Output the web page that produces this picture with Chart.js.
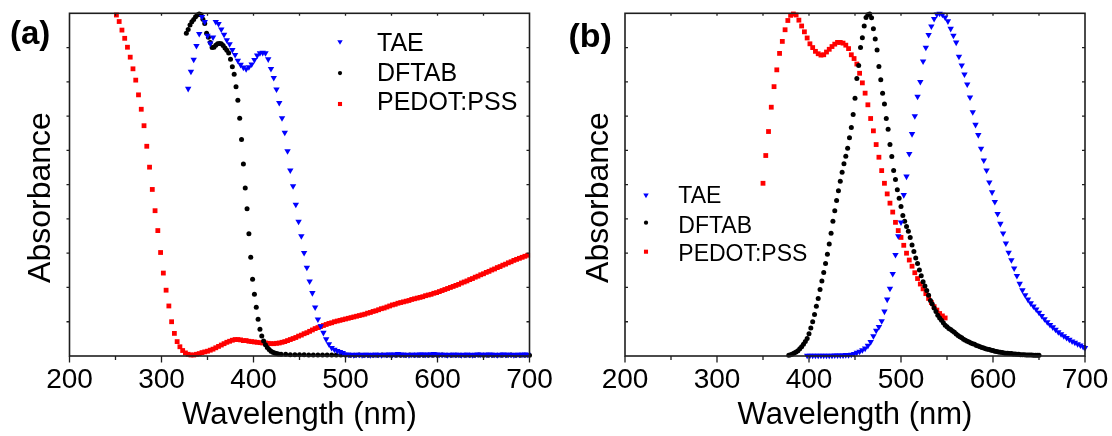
<!DOCTYPE html>
<html>
<head>
<meta charset="utf-8">
<script src="https://cdn.jsdelivr.net/npm/chart.js@4.4.1/dist/chart.umd.min.js"></script>
<style>
html,body{margin:0;padding:0;background:#fff;}
#wrap{position:relative;width:1112px;height:436px;overflow:hidden;background:#fff;}
.panel{position:absolute;top:0;width:556px;height:436px;}
canvas{display:block;}
</style>
</head>
<body>
<div id="wrap">
  <div class="panel" style="left:0"><canvas id="ca" width="556" height="436"></canvas></div>
  <div class="panel" style="left:556px"><canvas id="cb" width="556" height="436"></canvas></div>
</div>
<script>
// ---------- Panel (a): absorption ----------
const taeA_x = [329,332,335,338,341,344,347,350,353,356,359,362,365,368,371,374,377,380,383,386,389,392,395,398,401,404,407,410,413,416,419,422,425,428,431,434,437,440,443,446,449,452,455,458,461,464,467,470,473,476,479,482,485,488,491,494,497,500,
503,506,509,512,515,518,521,524,527,530,533,536,539,542,545,548,551,554,557,560,563,566,569,572,575,578,581,584,587,590,593,596,599,602,605,608,611,614,617,620,623,626,629,632,635,638,641,644,647,650,653,656,659,662,665,668,671,674,677,680,683,686,689,692,695,698];
const taeA_y = [0.78,0.83,0.865,0.905,0.94,0.99,0.975,0.935,0.912,0.93,0.975,0.969,0.953,0.938,0.922,0.91,0.893,0.879,0.862,0.85,0.842,0.837,0.843,0.851,0.864,0.877,0.884,0.885,0.884,0.866,0.838,0.812,0.778,0.739,0.694,0.652,0.598,0.542,0.496,0.442,0.392,0.35,0.301,0.258,0.218,0.184,0.142,0.107,0.087,0.068,0.049,0.035,0.024,0.019,0.015,0.012,0.009,0.005,
0.004,0.004,0.003,0.004,0.004,0.003,0.004,0.004,0.003,0.004,0.004,0.004,0.003,0.004,0.004,0.005,0.004,0.005,0.006,0.005,0.004,0.004,0.003,0.004,0.004,0.004,0.005,0.005,0.004,0.005,0.005,0.006,0.005,0.004,0.004,0.004,0.003,0.004,0.004,0.004,0.004,0.003,0.004,0.004,0.004,0.003,0.004,0.005,0.004,0.004,0.004,0.005,0.004,0.004,0.003,0.004,0.005,0.004,0.004,0.004,0.003,0.004,0.004,0.004,0.005,0.004];

const dftabA_x = [327,329,331,333,335,337,339,341,343,345,347,349,351,353,355,357,359,361,363,365,367,369,371,373,375,377,379,381,383,385,387,389,391,393,395,397,399,401,403,405,407,409,411,413,415,417,419,421,423,425,427,
430,435,440,445,450,455,460,465,470,475,480,485,490,495,500,505,510,515,520,525,530,535,540,545,550,555,560,565,570,575,580,585,590,595,600,605,610,615,620,625,630,635,640,645,650,655,660,665,670,675,680,685,690,695,700];
const dftabA_y = [0.942,0.953,0.966,0.975,0.982,0.99,0.995,0.998,0.996,0.983,0.97,0.942,0.93,0.915,0.9,0.901,0.907,0.911,0.912,0.911,0.906,0.899,0.892,0.884,0.866,0.844,0.822,0.786,0.746,0.694,0.632,0.56,0.49,0.43,0.357,0.288,0.224,0.18,0.142,0.107,0.078,0.058,0.044,0.033,0.025,0.019,0.014,0.011,0.009,0.007,0.006,
0.005,0.005,0.004,0.004,0.004,0.004,0.003,0.003,0.003,0.003,0.003,0.003,0.003,0.003,0.003,0.002,0.002,0.003,0.002,0.002,0.002,0.002,0.003,0.002,0.002,0.002,0.002,0.002,0.003,0.002,0.002,0.002,0.002,0.002,0.002,0.003,0.002,0.002,0.002,0.002,0.002,0.002,0.002,0.003,0.002,0.002,0.002,0.002,0.002,0.002,0.003,0.002,0.002,0.002,0.002];

const pedotA_x = [251,254,257,260,263,266,269,272,275,278,281,284,287,290,293,296,299,302,305,308,311,314,317,320,323,326,329,332,
335,338,341,344,347,350,353,356,359,362,365,368,371,374,377,380,383,386,389,392,395,398,401,404,407,410,413,416,419,422,425,428,431,434,437,440,443,446,449,452,455,458,461,464,467,470,473,476,479,482,485,488,491,494,497,500,503,506,509,512,515,518,521,524,527,530,533,536,539,542,545,548,551,554,557,560,563,566,569,572,575,578,581,584,587,590,593,596,599,602,605,608,611,614,617,620,623,626,629,632,635,638,641,644,647,650,653,656,659,662,665,668,671,674,677,680,683,686,689,692,695,698];
const pedotA_y = [0.995,0.976,0.951,0.927,0.901,0.872,0.838,0.805,0.762,0.72,0.672,0.612,0.551,0.486,0.424,0.366,0.302,0.242,0.192,0.146,0.1,0.066,0.042,0.027,0.016,0.009,0.005,0.003,
0.003,0.005,0.007,0.01,0.012,0.014,0.017,0.02,0.024,0.028,0.032,0.036,0.04,0.043,0.046,0.048,0.048,0.047,0.045,0.045,0.043,0.042,0.041,0.04,0.039,0.038,0.038,0.037,0.036,0.036,0.037,0.038,0.04,0.042,0.045,0.048,0.051,0.054,0.058,0.061,0.065,0.068,0.072,0.076,0.08,0.083,0.086,0.089,0.092,0.095,0.097,0.1,0.102,0.104,0.106,0.108,0.11,0.112,0.114,0.116,0.118,0.12,0.122,0.125,0.127,0.13,0.132,0.135,0.138,0.14,0.143,0.146,0.149,0.151,0.154,0.156,0.158,0.16,0.162,0.165,0.167,0.169,0.171,0.173,0.176,0.178,0.18,0.183,0.185,0.188,0.191,0.194,0.197,0.2,0.203,0.206,0.209,0.213,0.216,0.219,0.223,0.226,0.23,0.233,0.237,0.24,0.244,0.247,0.251,0.254,0.258,0.261,0.265,0.268,0.272,0.275,0.279,0.282,0.285,0.288,0.291,0.294];

// ---------- Panel (b): emission / spectra ----------
const taeB_x = [398,401,404,407,410,413,416,419,422,425,428,431,434,437,440,443,446,449,452,455,458,461,464,467,470,473,476,479,482,485,488,491,494,497,500,503,506,509,512,515,518,521,524,527,530,533,536,539,542,545,548,551,554,557,560,563,566,569,572,575,578,581,584,587,590,593,596,599,602,605,608,611,614,617,620,623,626,629,632,635,638,641,644,647,650,653,656,659,662,665,668,671,674,677,680,683,686,689,692,695,698,700];
const taeB_y = [0.001,0.001,0.001,0.001,0.001,0.001,0.001,0.001,0.001,0.001,
0.002,0.002,0.002,0.002,0.003,0.003,0.004,0.006,0.01,0.013,
0.017,0.022,0.03,0.041,0.058,0.074,0.085,0.102,0.13,0.165,
0.197,0.24,0.295,0.35,0.39,0.47,0.524,0.59,0.648,0.7,
0.757,0.8,0.86,0.9,0.937,0.962,0.984,0.997,0.999,0.996,
0.988,0.977,0.955,0.935,0.915,0.874,0.848,0.822,0.793,0.755,
0.712,0.675,0.645,0.605,0.571,0.542,0.507,0.478,0.45,0.415,
0.386,0.358,0.329,0.302,0.28,0.256,0.234,0.211,0.192,0.178,
0.165,0.154,0.145,0.136,0.127,0.117,0.108,0.099,0.091,0.084,
0.077,0.07,0.064,0.058,0.053,0.048,0.043,0.039,0.035,0.031,
0.027,0.024];

const dftabB_x = [378,380,382,384,386,388,390,392,394,396,398,400,402,404,406,408,410,412,414,416,418,420,422,424,426,428,430,432,434,436,438,440,442,444,446,448,450,452,454,456,458,460,462,464,466,468,470,472,474,476,478,480,482,484,486,488,490,492,494,496,498,500,502,504,506,508,510,512,514,516,518,520,522,524,526,528,530,532,534,536,538,540,542,544,546,548,550,552,554,556,558,560,562,564,566,568,570,572,574,576,578,580,582,584,586,588,590,592,594,596,598,600,602,604,606,608,610,612,614,616,618,620,622,624,626,628,630,632,634,636,638,640,642,644,646,648,650];
const dftabB_y = [0.002,0.004,0.006,0.009,0.012,0.015,0.021,0.027,0.034,0.042,
0.051,0.065,0.082,0.1,0.121,0.145,0.168,0.194,0.219,0.244,
0.27,0.297,0.327,0.358,0.393,0.424,0.454,0.482,0.51,0.536,
0.561,0.583,0.606,0.637,0.667,0.705,0.752,0.81,0.848,0.9,
0.929,0.963,0.988,0.996,0.998,0.987,0.955,0.925,0.893,0.845,
0.806,0.767,0.735,0.693,0.662,0.617,0.582,0.541,0.515,0.485,
0.46,0.436,0.41,0.393,0.378,0.364,0.346,0.324,0.305,0.286,
0.27,0.251,0.234,0.217,0.204,0.191,0.177,0.162,0.152,0.14,
0.13,0.119,0.111,0.104,0.097,0.09,0.085,0.08,0.077,0.073,
0.069,0.064,0.06,0.056,0.053,0.049,0.046,0.043,0.041,0.038,
0.036,0.034,0.031,0.029,0.027,0.025,0.023,0.021,0.02,0.019,
0.017,0.016,0.014,0.013,0.012,0.011,0.01,0.009,0.008,0.008,
0.007,0.007,0.006,0.006,0.005,0.005,0.004,0.004,0.004,0.003,
0.003,0.003,0.003,0.002,0.002,0.002,0.002];

const pedotB_x = [350,353,356,359,362,365,368,371,374,377,380,383,386,389,392,395,398,401,404,407,410,413,416,419,422,425,428,431,434,437,440,443,446,449,452,455,458,461,464,467,470,473,476,479,482,485,488,491,494,497,500,503,506,509,512,515,518,521,524,527,530,533,536,539,542,545,548];
const pedotB_y = [0.504,0.585,0.655,0.726,0.786,0.835,0.883,0.918,0.952,0.979,
0.994,0.998,0.995,0.98,0.963,0.946,0.928,0.911,0.9,0.889,
0.882,0.878,0.879,0.887,0.895,0.903,0.91,0.915,0.915,0.913,
0.907,0.897,0.879,0.868,0.852,0.825,0.797,0.767,0.733,0.693,
0.657,0.617,0.58,0.541,0.504,0.473,0.446,0.42,0.39,0.366,
0.346,0.323,0.3,0.28,0.262,0.243,0.226,0.21,0.196,0.182,
0.168,0.156,0.144,0.134,0.124,0.117,0.111];

// axis / legend text
const seriesNames = ['TAE','DFTAB','PEDOT:PSS'];
const xTitle = 'Wavelength (nm)';
const yTitle = 'Absorbance';
const xMin = 200, xMax = 700, xStep = 50;
const yMin = 0, yMax = 1, yStep = 0.1;

// ---------- styling ----------
const FONT = "'Liberation Sans', Arial, Helvetica, sans-serif";
const STY = [
  {color:'#0000ff', pointStyle:'triangle', rotation:180, radius:3.7},
  {color:'#000000', pointStyle:'circle',   rotation:0,   radius:2.5},
  {color:'#ff0000', pointStyle:'rect',     rotation:0,   radius:3.4}
];

function pts(xs, ys){ return xs.map((x,i)=>({x:x, y:ys[i]})); }

function dataset(i, xs, ys){
  const s = STY[i];
  return {
    label: seriesNames[i],
    data: pts(xs, ys),
    showLine: false,
    pointStyle: s.pointStyle,
    pointRotation: s.rotation,
    pointRadius: s.radius,
    pointHoverRadius: s.radius,
    pointBackgroundColor: s.color,
    pointBorderColor: s.color,
    pointBorderWidth: 0,
    clip: false
  };
}

function drawMarker(ctx, s, x, y, scale){
  ctx.fillStyle = s.color;
  const r = s.radius * scale;
  if (Chart.helpers && Chart.helpers.drawPoint) {
    Chart.helpers.drawPoint(ctx, {pointStyle:s.pointStyle, rotation:s.rotation, radius:r, borderWidth:0}, x, y);
  } else {
    ctx.beginPath(); ctx.arc(x, y, r, 0, Math.PI*2); ctx.fill();
  }
}

function decorPlugin(p){
  return {
    id: 'decor',
    afterDatasetsDraw(chart){
      const ctx = chart.ctx, a = chart.chartArea;
      const sx = chart.scales.x, sy = chart.scales.y;
      ctx.save();
      ctx.strokeStyle = '#1e1e1e';
      ctx.lineWidth = 1.6;
      ctx.strokeRect(a.left, a.top, a.right - a.left, a.bottom - a.top);
      ctx.lineWidth = 1.3;
      ctx.beginPath();
      for (let v = xMin; v <= xMax + 1e-9; v += xStep){
        const px = sx.getPixelForValue(v);
        const major = (v % 100 === 0);
        ctx.moveTo(px, a.bottom); ctx.lineTo(px, a.bottom + (major ? 6.5 : 4));
        if (v > xMin && v < xMax){ ctx.moveTo(px, a.top); ctx.lineTo(px, a.top + 2.5); }
      }
      for (let k = 1; k < 10; k++){
        const py = sy.getPixelForValue(yMin + k*yStep);
        if (p.leftOut){ ctx.moveTo(a.left - 3, py); ctx.lineTo(a.left, py); }
        else { ctx.moveTo(a.left, py); ctx.lineTo(a.left + 3, py); }
        ctx.moveTo(a.right - 3, py); ctx.lineTo(a.right, py);
      }
      ctx.stroke();
      ctx.restore();
    },
    afterDraw(chart){
      const ctx = chart.ctx;
      ctx.save();
      ctx.fillStyle = '#000';
      // panel label
      ctx.font = 'bold ' + p.labelSize + 'px ' + FONT;
      ctx.textAlign = 'left'; ctx.textBaseline = 'alphabetic';
      ctx.fillText(p.label, p.labelX, p.labelY);
      // y title
      ctx.save();
      ctx.translate(p.yTitleX, p.yTitleY);
      ctx.rotate(-Math.PI/2);
      ctx.font = '32px ' + FONT;
      ctx.textAlign = 'center';
      ctx.fillText(yTitle, 0, 0);
      ctx.restore();
      // legend
      ctx.font = p.legSize + 'px ' + FONT;
      ctx.textAlign = 'left';
      for (let i = 0; i < 3; i++){
        drawMarker(ctx, STY[i], p.legMX, p.legMY[i], 0.85);
        ctx.fillStyle = '#000';
        ctx.fillText(seriesNames[i], p.legTX, p.legTY[i]);
      }
      ctx.restore();
    }
  };
}

function makeChart(id, datasets, p){
  return new Chart(document.getElementById(id), {
    type: 'scatter',
    data: { datasets: datasets },
    options: {
      responsive: false,
      animation: false,
      devicePixelRatio: 1,
      events: [],
      layout: { padding: { top: 13.3, right: p.padRight, left: 0, bottom: 0 } },
      plugins: { legend: { display: false }, tooltip: { enabled: false } },
      scales: {
        x: {
          type: 'linear', position: 'bottom', min: xMin, max: xMax,
          afterFit(s){ s.height = 80; },
          ticks: { stepSize: xStep, autoSkip: false, maxRotation: 0, minRotation: 0, padding: 1.5, color: '#000',
                   font: { family: FONT, size: 28 },
                   callback: (v) => (v % 100 === 0 ? String(v) : '') },
          grid: { display: true, drawOnChartArea: false, drawTicks: true, tickLength: 6, color: 'rgba(0,0,0,0)' },
          border: { display: false },
          title: { display: true, text: xTitle, color: '#000', font: { family: FONT, size: 31 }, padding: { top: 0, bottom: 1.6 } }
        },
        y: {
          type: 'linear', position: 'left', min: yMin, max: yMax,
          afterFit(s){ s.width = p.yWidth; },
          ticks: { display: false, stepSize: yStep },
          grid: { display: false },
          border: { display: false }
        }
      }
    },
    plugins: [decorPlugin(p)]
  });
}

makeChart('ca', [
  dataset(0, taeA_x, taeA_y),
  dataset(1, dftabA_x, dftabA_y),
  dataset(2, pedotA_x, pedotA_y)
], {
  padRight: 26.5, yWidth: 69.5, leftOut: true,
  label: '(a)', labelSize: 33, labelX: 10, labelY: 43.5,
  yTitleX: 50, yTitleY: 197.5,
  legSize: 25, legMX: 340, legMY: [41.7, 73, 104], legTX: 377, legTY: [51, 80.5, 110]
});

makeChart('cb', [
  dataset(0, taeB_x, taeB_y),
  dataset(1, dftabB_x, dftabB_y),
  dataset(2, pedotB_x, pedotB_y)
], {
  padRight: 27, yWidth: 69, leftOut: false,
  label: '(b)', labelSize: 34, labelX: 12.5, labelY: 46.6,
  yTitleX: 52, yTitleY: 197.5,
  legSize: 23, legMX: 90, legMY: [195, 222.7, 251.7], legTX: 122.3, legTY: [203.3, 232.7, 260.7]
});
</script>
</body>
</html>
